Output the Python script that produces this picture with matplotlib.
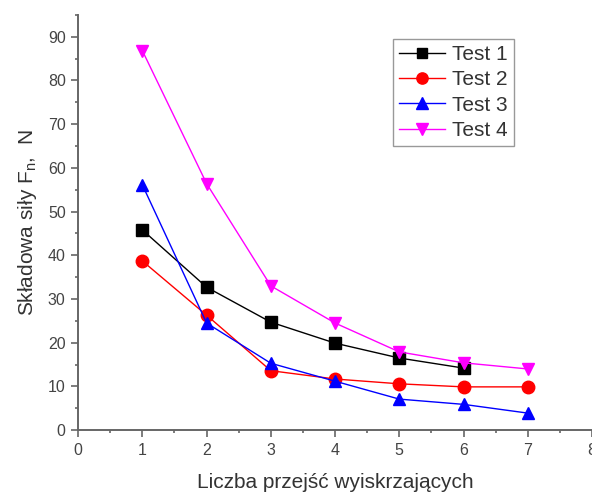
import matplotlib.pyplot as plt
from matplotlib.ticker import MultipleLocator

plt.rcParams['font.family'] = ['Liberation Sans', 'DejaVu Sans']
plt.rcParams['mathtext.fontset'] = 'custom'
plt.rcParams['mathtext.rm'] = 'Liberation Sans'

passes = [1, 2, 3, 4, 5, 6, 7]
test1 = [45.8, 32.7, 24.7, 19.9, 16.5, 14.2]
test2 = [38.7, 26.3, 13.6, 11.7, 10.6, 9.9, 9.9]
test3 = [56.1, 24.5, 15.3, 11.2, 7.1, 5.9, 3.9]
test4 = [86.8, 56.4, 33.0, 24.5, 17.9, 15.4, 14.0]

fig = plt.figure(figsize=(5.92, 4.95), dpi=100)
ax = fig.add_axes([0.132, 0.131, 0.868, 0.839])

ax.plot(passes[:len(test1)], test1, color='black', marker='s', ms=8, lw=1, label='Test 1')
ax.plot(passes, test2, color='red', marker='o', ms=9, lw=1, label='Test 2')
ax.plot(passes, test3, color='blue', marker='^', ms=9, lw=1, label='Test 3')
ax.plot(passes, test4, color='#ff00ff', marker='v', ms=9, lw=1, label='Test 4')

ax.set_xlim(0, 8)
ax.set_ylim(0, 95)
ax.xaxis.set_major_locator(MultipleLocator(1))
ax.xaxis.set_minor_locator(MultipleLocator(0.5))
ax.yaxis.set_major_locator(MultipleLocator(10))
ax.yaxis.set_minor_locator(MultipleLocator(5))

for s in ['top', 'right']:
    ax.spines[s].set_visible(False)
for s in ['left', 'bottom']:
    ax.spines[s].set_color('#666666')
    ax.spines[s].set_linewidth(1.4)
ax.tick_params(which='major', direction='out', length=5, width=1.2, color='#666666',
               labelsize=11.5, labelcolor='#444444', pad=4)
ax.tick_params(which='minor', direction='out', length=2, width=1.2, color='#666666')

ax.set_xlabel('Liczba przejść wyiskrzających', fontsize=15, color='#333333', labelpad=11)
ax.set_ylabel('Składowa siły F$_{\\mathregular{n}}$,  N', fontsize=15, color='#333333', labelpad=6)

leg = ax.legend(loc='upper left', bbox_to_anchor=(0.612, 0.942), fontsize=15,
                fancybox=False, edgecolor='#999999', framealpha=1,
                handlelength=2.2, handletextpad=0.35, borderpad=0.3, labelspacing=0.3,
                borderaxespad=0, markerscale=0.9)
for t in leg.get_texts():
    t.set_color('#333333')

fig.savefig('out.png', dpi=100)
